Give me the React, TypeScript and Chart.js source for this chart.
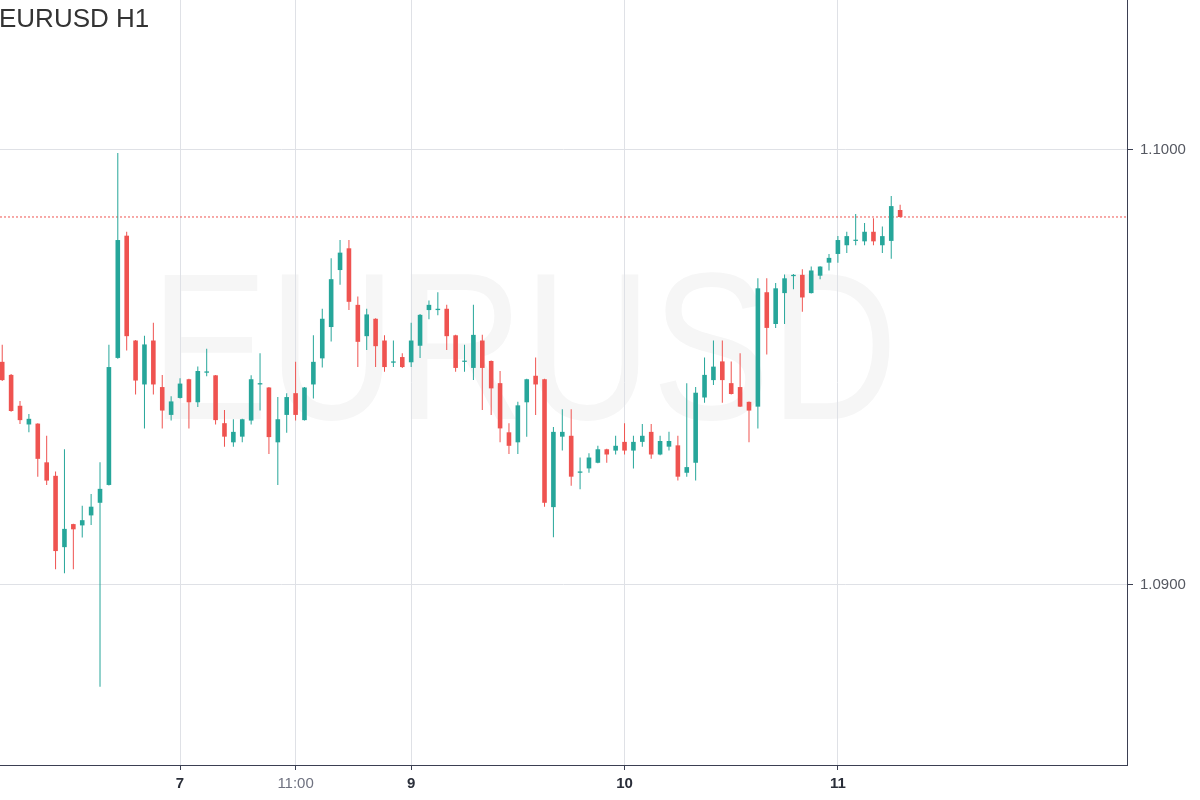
import React, { useEffect, useRef } from "react";
import { Chart, registerables } from "chart.js";

Chart.register(...registerables);

// Hourly EURUSD candles (index 0 .. 101)
const opens = [
  1.09513, 1.09483, 1.09412, 1.09369, 1.09371, 1.09282, 1.09251, 1.09087, 1.0914, 1.09137,
  1.0916, 1.09189, 1.0923, 1.09522, 1.09803, 1.09562, 1.09461, 1.09562, 1.09455, 1.09391,
  1.0943, 1.09473, 1.0942, 1.09488, 1.09482, 1.09372, 1.09328, 1.09341, 1.09378, 1.09461,
  1.09454, 1.09328, 1.09391, 1.09441, 1.09379, 1.09461, 1.09521, 1.09593, 1.09724, 1.09774,
  1.09644, 1.09572, 1.09612, 1.09562, 1.09511, 1.09524, 1.09512, 1.0955, 1.09632, 1.09632,
  1.09635, 1.09574, 1.09513, 1.09499, 1.09562, 1.09515, 1.09464, 1.09351, 1.09328, 1.0942,
  1.09481, 1.09473, 1.09179, 1.09341, 1.09343, 1.09258, 1.09268, 1.09281, 1.09312, 1.09309,
  1.09329, 1.09309, 1.09329, 1.09352, 1.093, 1.09318, 1.09321, 1.09258, 1.09281, 1.09431,
  1.09471, 1.09514, 1.09464, 1.09455, 1.09421, 1.0941, 1.09673, 1.096, 1.09671, 1.0971,
  1.09713, 1.09671, 1.09711, 1.09741, 1.09761, 1.09781, 1.09791, 1.0979, 1.09812, 1.09781,
  1.09791, 1.09862,
];
const highs = [
  1.09552, 1.09485, 1.09423, 1.09393, 1.09372, 1.09343, 1.09261, 1.09312, 1.09141, 1.09182,
  1.09209, 1.09282, 1.09552, 1.09993, 1.09812, 1.09563, 1.09573, 1.09603, 1.09483, 1.09434,
  1.09475, 1.09474, 1.09502, 1.09543, 1.09483, 1.09402, 1.09381, 1.09382, 1.09482, 1.09533,
  1.09455, 1.09432, 1.09441, 1.09513, 1.09455, 1.09574, 1.09635, 1.09751, 1.09793, 1.09793,
  1.09663, 1.09635, 1.09613, 1.09574, 1.09562, 1.09533, 1.09603, 1.09623, 1.09654, 1.09673,
  1.09644, 1.09575, 1.09552, 1.09644, 1.09575, 1.09516, 1.09492, 1.09372, 1.09421, 1.09474,
  1.09523, 1.09474, 1.09363, 1.09404, 1.09404, 1.09293, 1.09303, 1.0932, 1.09313, 1.09343,
  1.09372, 1.09343, 1.0937, 1.0937, 1.09343, 1.09352, 1.09343, 1.09464, 1.09455, 1.09523,
  1.09562, 1.09562, 1.09514, 1.09533, 1.09422, 1.09705, 1.09705, 1.09694, 1.09714, 1.09715,
  1.09726, 1.09732, 1.09733, 1.09761, 1.09802, 1.09812, 1.09853, 1.09832, 1.09843, 1.09824,
  1.09894, 1.09874,
];
const lows = [
  1.09469, 1.09398, 1.0937, 1.09351, 1.09249, 1.0923, 1.09036, 1.09027, 1.09036, 1.09109,
  1.09138, 1.08766, 1.09229, 1.0952, 1.09539, 1.09438, 1.0936, 1.09438, 1.0936, 1.09378,
  1.09429, 1.0936, 1.09409, 1.0948, 1.09369, 1.09318, 1.09318, 1.09328, 1.09369, 1.09401,
  1.09301, 1.0923, 1.0935, 1.09378, 1.09378, 1.09429, 1.095, 1.0956, 1.0969, 1.09632,
  1.09501, 1.0954, 1.09501, 1.0949, 1.09501, 1.09499, 1.09501, 1.09522, 1.09611, 1.0962,
  1.0954, 1.0949, 1.0949, 1.09471, 1.09402, 1.09391, 1.09328, 1.09301, 1.09301, 1.09341,
  1.09391, 1.0918, 1.0911, 1.09309, 1.09228, 1.0922, 1.09258, 1.0928, 1.09281, 1.093,
  1.093, 1.09268, 1.09318, 1.0929, 1.09298, 1.09309, 1.0924, 1.09249, 1.0924, 1.09419,
  1.0946, 1.09419, 1.09438, 1.09409, 1.09328, 1.0936, 1.0953, 1.09591, 1.096, 1.0968,
  1.09628, 1.0967, 1.09703, 1.09723, 1.09741, 1.09763, 1.09781, 1.09781, 1.09781, 1.09763,
  1.0975, 1.09845,
];
const closes = [
  1.09471, 1.094, 1.09379, 1.09382, 1.0929, 1.0924, 1.09078, 1.09129, 1.09128, 1.09149,
  1.0918, 1.09221, 1.09501, 1.09793, 1.09572, 1.0947, 1.09553, 1.09461, 1.09401, 1.09422,
  1.09463, 1.0942, 1.09492, 1.09491, 1.09379, 1.09341, 1.09352, 1.09381, 1.09473, 1.09464,
  1.0934, 1.09381, 1.09432, 1.09391, 1.09454, 1.09513, 1.09612, 1.09703, 1.09764, 1.09651,
  1.09559, 1.09622, 1.09549, 1.09501, 1.09514, 1.09501, 1.09562, 1.09621, 1.09644, 1.09635,
  1.09572, 1.09499, 1.09515, 1.09575, 1.09499, 1.09452, 1.0936, 1.0932, 1.09413, 1.09473,
  1.09461, 1.09189, 1.09352, 1.09352, 1.09249, 1.09261, 1.09293, 1.09312, 1.093, 1.0932,
  1.09309, 1.09329, 1.09343, 1.093, 1.09331, 1.09331, 1.09249, 1.09271, 1.09442, 1.09483,
  1.09502, 1.09471, 1.09439, 1.0941, 1.09401, 1.09682, 1.09591, 1.09682, 1.09705, 1.09713,
  1.09661, 1.09723, 1.09732, 1.09752, 1.09793, 1.09802, 1.09793, 1.09812, 1.0979, 1.09802,
  1.09871, 1.09846,
];

// Time axis labels (candle index where each label sits)
const timeTickIndex = [20, 33, 46, 70, 94];
const timeTickLabels = ["7", "11:00", "9", "10", "11"];
const priceTicks = [1.09, 1.1];

const X_MIN = -0.25;
const X_MAX = 126.52;
const Y_MIN = 1.085862;
const Y_MAX = 1.103448;

const UP = "#26a69a";
const DOWN = "#ef5350";
const FONT = "'Liberation Sans', Arial, sans-serif";

const zeroPad = (s: any) => {
  s.paddingTop = 0;
  s.paddingBottom = 0;
  s.paddingLeft = 0;
  s.paddingRight = 0;
};

export default function App() {
  const ref = useRef<HTMLCanvasElement>(null);

  useEffect(() => {
    document.body.style.margin = "0";
    const colors = opens.map((o, i) => (closes[i] >= o ? UP : DOWN));
    const lastPrice = closes[closes.length - 1];
    const chart = new Chart(ref.current as HTMLCanvasElement, {
      type: "bar",
      data: {
        datasets: [
          {
            type: "line",
            data: [
              { x: X_MIN, y: lastPrice },
              { x: X_MAX, y: lastPrice },
            ],
            borderColor: DOWN,
            borderWidth: 1,
            borderDash: [2, 2],
            pointRadius: 0,
            order: 3,
          } as any,
          {
            data: opens.map((_, i) => ({ x: i, y: [lows[i], highs[i]] })),
            backgroundColor: colors,
            borderWidth: 0,
            barThickness: 1,
            inflateAmount: 0,
            grouped: false,
            order: 2,
          } as any,
          {
            data: opens.map((o, i) => ({ x: i, y: [o, closes[i]] })),
            backgroundColor: colors,
            borderWidth: 0,
            barThickness: 4.6,
            inflateAmount: 0,
            minBarLength: 1.2,
            grouped: false,
            order: 1,
          } as any,
        ],
      },
      options: {
        animation: false,
        responsive: false,
        devicePixelRatio: 1,
        layout: { padding: 0 },
        plugins: { legend: { display: false }, tooltip: { enabled: false } },
        scales: {
          x: {
            type: "linear",
            min: X_MIN,
            max: X_MAX,
            offset: false,
            afterBuildTicks: (s: any) => {
              s.ticks = timeTickIndex.map((v) => ({ value: v }));
            },
            afterFit: (s: any) => {
              s.height = 35;
              zeroPad(s);
            },
            grid: {
              offset: false,
              color: "#dfe1e6",
              tickColor: "#3b3f52",
              tickLength: 5,
            },
            border: { color: "#3b3f52", width: 1 },
            ticks: {
              autoSkip: false,
              maxRotation: 0,
              padding: 5,
              callback: (v: any) => {
                const k = timeTickIndex.indexOf(Number(v));
                return k >= 0 ? timeTickLabels[k] : "";
              },
              color: (ctx: any) =>
                ctx.tick && ctx.tick.label === "11:00" ? "#6f7280" : "#2a2e39",
              font: (ctx: any) => ({
                family: FONT,
                size: 15,
                weight: ctx.tick && ctx.tick.label === "11:00" ? "normal" : "bold",
              }),
            },
          },
          y: {
            type: "linear",
            position: "right",
            min: Y_MIN,
            max: Y_MAX,
            afterBuildTicks: (s: any) => {
              s.ticks = priceTicks.map((v) => ({ value: v }));
            },
            afterFit: (s: any) => {
              s.width = 73;
              zeroPad(s);
            },
            grid: {
              offset: false,
              color: "#dfe1e6",
              tickColor: "#3b3f52",
              tickLength: 6,
            },
            border: { color: "#3b3f52", width: 1 },
            ticks: {
              padding: 7,
              color: "#555861",
              font: { family: FONT, size: 15 },
              callback: (v: any) => Number(v).toFixed(4),
            },
          },
        },
      } as any,
    });
    return () => chart.destroy();
  }, []);

  return (
    <div
      style={{
        position: "fixed",
        left: 0,
        top: 0,
        width: 1200,
        height: 800,
        background: "#ffffff",
        overflow: "hidden",
      }}
    >
      <div
        style={{
          position: "absolute",
          left: 524,
          top: 347,
          transform: "translate(-50%, -50%) scaleX(0.843)",
          fontFamily: FONT,
          fontSize: 210,
          lineHeight: 1,
          color: "#f6f6f6",
          whiteSpace: "nowrap",
        }}
      >
        EURUSD
      </div>
      <canvas
        ref={ref}
        width={1200}
        height={800}
        style={{ position: "absolute", left: 0, top: 0 }}
      />
      <div
        style={{
          position: "absolute",
          left: -1,
          top: 5,
          fontFamily: FONT,
          fontSize: 26,
          lineHeight: "26px",
          color: "#333333",
          whiteSpace: "nowrap",
        }}
      >
        EURUSD H1
      </div>
    </div>
  );
}
